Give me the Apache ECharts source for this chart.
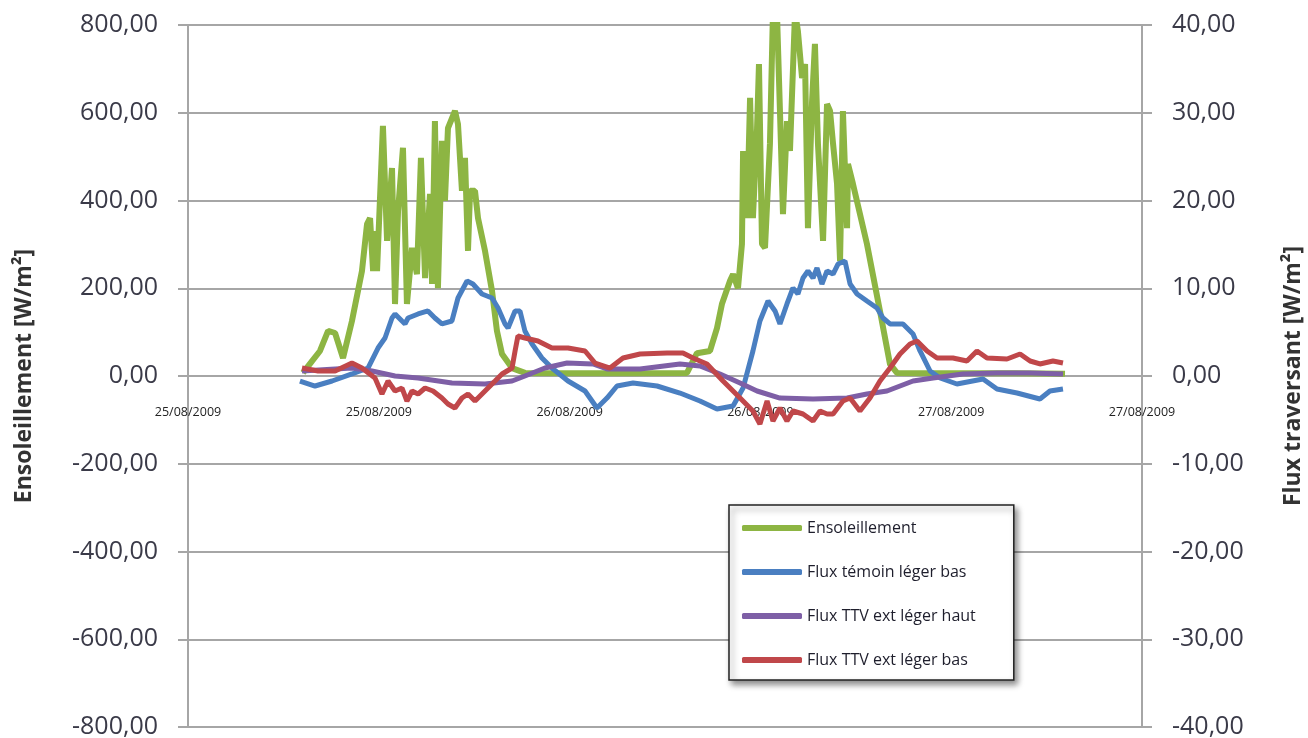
<!DOCTYPE html>
<html>
<head>
<meta charset="utf-8">
<title>Ensoleillement / Flux traversant</title>
<script src="https://cdn.jsdelivr.net/npm/echarts@6/dist/echarts.min.js"></script>
<style>
  html, body { margin: 0; padding: 0; background: #fff; }
  #chart { width: 1308px; height: 738px; }
</style>
</head>
<body>
<div id="chart"></div>
<script>
// x = heures depuis 25/08/2009 00:00
const dateLabels = ['25/08/2009', '25/08/2009', '26/08/2009', '26/08/2009', '27/08/2009', '27/08/2009']

// Ensoleillement [W/m²] (axe gauche)
const solHours = [7.23, 7.8, 8.3, 8.81, 9.25, 9.75, 10.31, 10.94, 11.26, 11.45, 11.64, 11.76, 11.89, 12.26, 12.52, 12.83, 13.02, 13.21, 13.52, 13.77, 14.09, 14.4, 14.65, 14.91, 15.22, 15.35, 15.53, 15.72, 15.97, 16.16, 16.35, 16.79, 16.98, 17.23, 17.42, 17.61, 17.74, 18.05, 18.24, 18.68, 19.12, 19.43, 19.75, 20.38, 21.19, 25, 28, 31.38, 32.01, 32.83, 33.27, 33.58, 34.09, 34.28, 34.59, 34.84, 34.91, 35.16, 35.35, 35.53, 35.79, 35.91, 36.1, 36.29, 36.6, 36.79, 37.04, 37.23, 37.42, 37.67, 37.86, 38.18, 38.36, 38.62, 38.81, 38.99, 39.25, 39.43, 39.62, 39.94, 40.19, 40.38, 40.57, 40.82, 41.01, 41.19, 41.45, 41.51, 41.82, 42.7, 43.52, 44.15, 44.59, 48, 52, 55.16]
const solValues = [7, 34, 57, 103, 98, 41, 125, 239, 346, 360, 239, 330, 239, 570, 308, 474, 164, 376, 520, 164, 292, 232, 497, 223, 415, 210, 581, 200, 536, 399, 565, 604, 574, 422, 497, 285, 422, 422, 360, 285, 194, 103, 50, 18, 7, 6, 6, 7, 52, 57, 109, 164, 217, 232, 200, 301, 513, 360, 634, 360, 565, 711, 301, 292, 529, 830, 830, 604, 369, 581, 513, 830, 786, 679, 711, 337, 627, 757, 529, 308, 620, 604, 529, 438, 262, 604, 337, 483, 438, 301, 148, 27, 7, 6, 6, 5]

// Flux témoin léger bas (axe droit)
const temoinHours = [7.04, 7.99, 9.06, 10.31, 11.32, 11.95, 12.39, 12.83, 13.02, 13.46, 13.65, 13.84, 14.47, 15.09, 15.53, 15.97, 16.6, 16.98, 17.55, 17.92, 18.49, 19.12, 19.5, 19.94, 20.13, 20.57, 20.88, 21.19, 21.64, 22.26, 22.89, 23.9, 24.97, 25.72, 26.35, 26.98, 27.99, 29.5, 30.94, 32.2, 33.27, 34.28, 34.91, 35.53, 35.97, 36.48, 36.92, 37.23, 37.67, 38.05, 38.36, 38.68, 38.99, 39.31, 39.56, 39.87, 40.19, 40.57, 40.88, 41.32, 41.64, 42.08, 42.7, 43.33, 43.71, 44.15, 44.97, 45.6, 46.04, 46.67, 47.3, 48.36, 50, 50.88, 52.14, 53.58, 54.21, 55.03]
const temoinValues = [-0.57, -1.14, -0.57, 0.23, 0.91, 3.19, 4.33, 6.61, 7.07, 6.27, 5.93, 6.61, 7.07, 7.41, 6.61, 5.93, 6.27, 8.89, 10.83, 10.48, 9.34, 8.89, 7.75, 5.93, 5.47, 7.41, 7.41, 5.13, 3.65, 2.05, 0.91, -0.57, -1.71, -3.65, -2.51, -1.14, -0.8, -1.14, -1.94, -2.85, -3.76, -3.42, -1.37, 2.85, 6.27, 8.55, 7.41, 5.93, 8.21, 10.03, 9.34, 11.17, 11.97, 11.17, 12.31, 10.48, 11.97, 11.62, 12.76, 13.11, 10.48, 9.34, 8.55, 7.75, 6.61, 5.93, 5.93, 4.79, 2.85, 0.57, -0.23, -0.91, -0.34, -1.48, -1.94, -2.62, -1.71, -1.48]

// Flux TTV ext léger haut (axe droit)
const hautHours = [7.17, 10.31, 11.57, 13.02, 14.47, 16.6, 18.68, 20.38, 21.19, 22.45, 23.84, 25.47, 26.35, 28.43, 30.94, 32.2, 33.46, 34.72, 35.79, 37.23, 39.31, 41.45, 42.7, 43.96, 45.6, 46.86, 48.74, 50.88, 52.96, 55.03]
const hautValues = [0.57, 0.91, 0.57, 0, -0.23, -0.8, -0.91, -0.57, 0, 0.91, 1.48, 1.37, 0.8, 0.8, 1.37, 1.14, 0.23, -0.8, -1.71, -2.51, -2.62, -2.51, -2.05, -1.71, -0.57, -0.23, 0.23, 0.34, 0.34, 0.23]

// Flux TTV ext léger bas (axe droit)
const basHours = [7.17, 8.18, 9.25, 10.31, 10.94, 11.76, 12.2, 12.58, 13.02, 13.46, 13.77, 14.09, 14.47, 14.91, 15.41, 15.97, 16.35, 16.79, 17.23, 17.61, 18.05, 18.68, 19.31, 19.75, 20.38, 20.57, 20.75, 21.19, 22.01, 22.89, 23.9, 24.97, 25.6, 26.54, 27.36, 28.43, 30.13, 31.13, 31.76, 32.64, 33.65, 34.72, 35.53, 35.97, 36.42, 36.79, 37.23, 37.67, 38.05, 38.68, 39.31, 39.75, 40.19, 40.57, 41.19, 41.64, 42.26, 42.89, 43.52, 44.15, 44.78, 45.41, 45.85, 46.48, 47.11, 48.11, 48.99, 49.62, 50.25, 51.51, 52.33, 52.96, 53.58, 54.4, 55.03]
const basValues = [0.91, 0.57, 0.57, 1.48, 0.91, -0.23, -2.05, -0.57, -1.71, -1.37, -2.85, -1.71, -2.05, -1.37, -1.71, -2.51, -3.19, -3.65, -2.51, -2.05, -2.85, -1.71, -0.57, 0.23, 0.91, 2.85, 4.56, 4.33, 3.99, 3.19, 3.19, 2.85, 1.48, 0.91, 2.05, 2.51, 2.62, 2.62, 2.05, 1.37, -0.57, -2.51, -3.99, -5.47, -2.85, -5.13, -3.65, -5.13, -3.99, -4.33, -5.13, -3.99, -4.33, -4.33, -2.85, -2.51, -3.99, -2.51, -0.57, 0.91, 2.51, 3.65, 3.99, 2.85, 2.05, 2.05, 1.71, 2.85, 2.05, 1.94, 2.51, 1.71, 1.37, 1.71, 1.48]

const zip = (xs, ys) => xs.map((x, i) => [x, ys[i]])
const fmt = (v) => v.toFixed(2).replace('.', ',')

const gridColor = '#a6a6a6'
const fontFamily = '"Open Sans", "DejaVu Sans", sans-serif'
const gridTop = 25
const gridBottom = 11
const plotHeight = 738 - gridTop - gridBottom

const chart = echarts.init(document.getElementById('chart'))
let option = {
  animation: false,
  color: ['#8db543', '#4a7fc1', '#7e5fa6', '#c0474a'],
  textStyle: { fontFamily: fontFamily },
  grid: {
    left: 188,
    right: 166,
    top: gridTop,
    bottom: gridBottom,
    containLabel: false,
    outerBoundsMode: 'none',
  },
  legend: {
    orient: 'vertical',
    left: 729,
    top: 505,
    icon: 'roundRect',
    itemWidth: 60,
    itemHeight: 6,
    itemGap: 28,
    padding: [15, 38, 12, 13],
    backgroundColor: '#fff',
    borderColor: '#222',
    borderWidth: 1.5,
    borderRadius: 0,
    shadowColor: 'rgba(0,0,0,0.45)',
    shadowBlur: 6,
    shadowOffsetX: 3,
    shadowOffsetY: 4,
    textStyle: {
      fontSize: 16,
      color: '#1e1e2c',
      fontFamily: fontFamily,
    },
  },
  xAxis: {
    type: 'value',
    min: 0,
    max: 60,
    interval: 12,
    position: 'bottom',
    // l'axe des dates passe par 0 (milieu de la zone)
    offset: -plotHeight / 2,
    axisLine: {
      show: true,
      onZero: false,
      lineStyle: { color: gridColor, width: 2 },
    },
    axisTick: { show: false },
    splitLine: { show: false },
    axisLabel: {
      margin: 30,
      fontSize: 12.5,
      color: '#222',
      showMinLabel: true,
      showMaxLabel: true,
      formatter: (v) => dateLabels[Math.round(v / 12)],
    },
  },
  yAxis: [
    {
      type: 'value',
      min: -800,
      max: 800,
      interval: 200,
      name: 'Ensoleillement [W/m²]',
      nameLocation: 'middle',
      nameRotate: 90,
      nameGap: 152,
      nameTextStyle: { fontSize: 23, fontWeight: 'bold', color: '#333' },
      axisLine: { show: true, onZero: false, lineStyle: { color: gridColor, width: 2 } },
      axisTick: { show: true, length: 10, lineStyle: { color: gridColor, width: 2 } },
      splitLine: { lineStyle: { color: gridColor, width: 2 } },
      axisLabel: {
        margin: 30,
        fontSize: 25,
        color: '#3a3a48',
        formatter: fmt,
      },
    },
    {
      type: 'value',
      min: -40,
      max: 40,
      interval: 10,
      name: 'Flux traversant [W/m²]',
      nameLocation: 'middle',
      nameRotate: 90,
      nameGap: 140,
      nameTextStyle: { fontSize: 23, fontWeight: 'bold', color: '#333' },
      axisLine: { show: true, onZero: false, lineStyle: { color: gridColor, width: 2 } },
      axisTick: { show: true, length: 10, lineStyle: { color: gridColor, width: 2 } },
      splitLine: { show: false },
      axisLabel: {
        margin: 30,
        fontSize: 25,
        color: '#3a3a48',
        formatter: fmt,
      },
    },
  ],
  series: [
    {
      name: 'Ensoleillement',
      type: 'line',
      yAxisIndex: 0,
      showSymbol: false,
      lineStyle: { width: 6 },
      data: zip(solHours, solValues),
    },
    {
      name: 'Flux témoin léger bas',
      type: 'line',
      yAxisIndex: 1,
      showSymbol: false,
      lineStyle: { width: 5 },
      data: zip(temoinHours, temoinValues),
    },
    {
      name: 'Flux TTV ext léger haut',
      type: 'line',
      yAxisIndex: 1,
      showSymbol: false,
      lineStyle: { width: 5 },
      data: zip(hautHours, hautValues),
    },
    {
      name: 'Flux TTV ext léger bas',
      type: 'line',
      yAxisIndex: 1,
      showSymbol: false,
      lineStyle: { width: 5 },
      data: zip(basHours, basValues),
    },
  ],
}
chart.setOption(option)
</script>
</body>
</html>
